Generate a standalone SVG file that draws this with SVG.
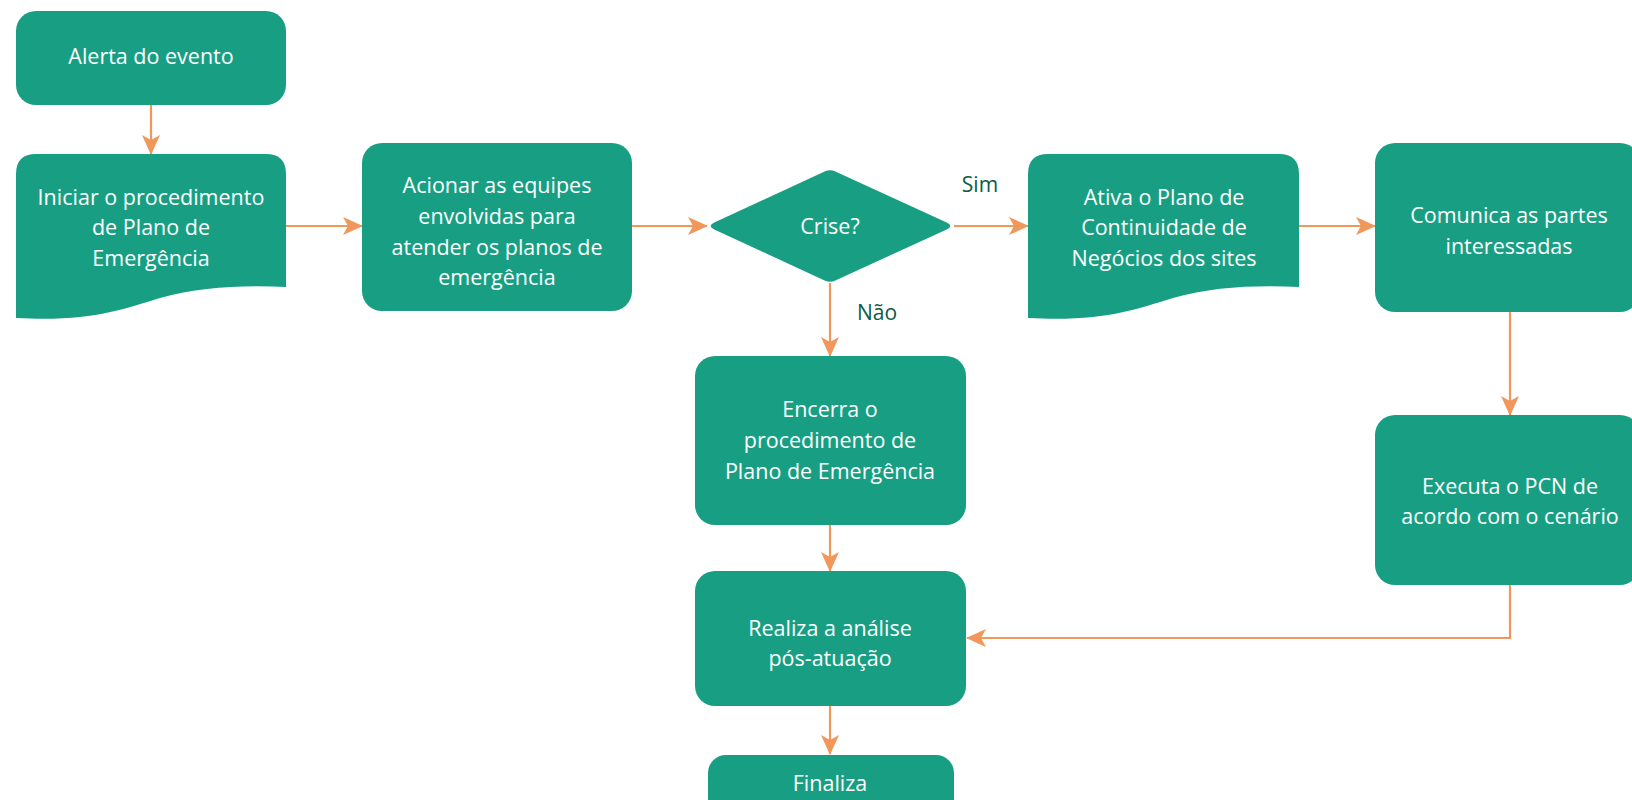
<svg xmlns="http://www.w3.org/2000/svg" width="1632" height="800" viewBox="0 0 1632 800">
<defs>
<style>
.box{fill:#189f83}
.t{font-family:"Open Sans","Liberation Sans",sans-serif;font-size:21.5px;fill:#ffffff;text-anchor:middle}
.lbl{font-family:"Open Sans","Liberation Sans",sans-serif;font-size:21px;fill:#0c5a49;text-anchor:middle}
.c{fill:none;stroke:#f0975b;stroke-width:2.2;marker-end:url(#ah)}
</style>
<marker id="ah" viewBox="0 0 20 20" refX="19" refY="10" markerWidth="20" markerHeight="20" markerUnits="userSpaceOnUse" orient="auto">
<path d="M0,1 L20,10 L0,19 L5,10 Z" fill="#f0975b"/>
</marker>
</defs>
<rect width="1632" height="800" fill="#ffffff"/>
<g id="connectors">
<path class="c" d="M151,105 V154"/>
<path class="c" d="M286,226 H362"/>
<path class="c" d="M632,226 H707"/>
<path class="c" d="M954,226 H1028"/>
<path class="c" d="M1299,226 H1375"/>
<path class="c" d="M830,283 V356"/>
<path class="c" d="M1510,312 V415"/>
<path class="c" d="M1510,585 V638 H967"/>
<path class="c" d="M830,525 V571"/>
<path class="c" d="M830,706 V754"/>
</g>
<g id="alerta">
<rect class="box" x="16" y="11" width="270" height="94" rx="20"/>
<text class="t" x="151" y="64">Alerta do evento</text>
</g>
<g id="iniciar">
<path class="box" d="M16,174 Q16,154 36,154 H266 Q286,154 286,174 V287 C240,285 200,287 160,298 C120,310 90,322 16,318 Z"/>
<text class="t" x="151" y="205">Iniciar o procedimento</text>
<text class="t" x="151" y="235">de Plano de</text>
<text class="t" x="151" y="266">Emergência</text>
</g>
<g id="acionar">
<rect class="box" x="362" y="143" width="270" height="168" rx="20"/>
<text class="t" x="497" y="193">Acionar as equipes</text>
<text class="t" x="497" y="224">envolvidas para</text>
<text class="t" x="497" y="255">atender os planos de</text>
<text class="t" x="497" y="285">emergência</text>
</g>
<g id="crise">
<path class="box" d="M714.3,222.6 L824.6,171.5 Q830,169 835.4,171.5 L946.7,222.6 Q954,226 946.7,229.4 L835.4,280.5 Q830,283 824.6,280.5 L714.3,229.4 Q707,226 714.3,222.6 Z"/>
<text class="t" x="830" y="234">Crise?</text>
</g>
<text class="lbl" x="980" y="192">Sim</text>
<text class="lbl" x="877" y="320">Não</text>
<g id="ativa">
<path class="box" d="M1028,174 Q1028,154 1048,154 H1279 Q1299,154 1299,174 V287 C1253,285 1213,287 1173,298 C1133,310 1103,322 1028,318 Z"/>
<text class="t" x="1164" y="205">Ativa o Plano de</text>
<text class="t" x="1164" y="235">Continuidade de</text>
<text class="t" x="1164" y="266">Negócios dos sites</text>
</g>
<g id="comunica">
<rect class="box" x="1375" y="143" width="265" height="169" rx="20"/>
<text class="t" x="1509" y="223">Comunica as partes</text>
<text class="t" x="1509" y="254">interessadas</text>
</g>
<g id="executa">
<rect class="box" x="1375" y="415" width="265" height="170" rx="20"/>
<text class="t" x="1510" y="494">Executa o PCN de</text>
<text class="t" x="1510" y="524">acordo com o cenário</text>
</g>
<g id="encerra">
<rect class="box" x="695" y="356" width="271" height="169" rx="20"/>
<text class="t" x="830" y="417">Encerra o</text>
<text class="t" x="830" y="448">procedimento de</text>
<text class="t" x="830" y="479">Plano de Emergência</text>
</g>
<g id="realiza">
<rect class="box" x="695" y="571" width="271" height="135" rx="20"/>
<text class="t" x="830" y="636">Realiza a análise</text>
<text class="t" x="830" y="666">pós-atuação</text>
</g>
<g id="finaliza">
<rect class="box" x="708" y="755" width="246" height="70" rx="18"/>
<text class="t" x="830" y="791">Finaliza</text>
</g>
</svg>
